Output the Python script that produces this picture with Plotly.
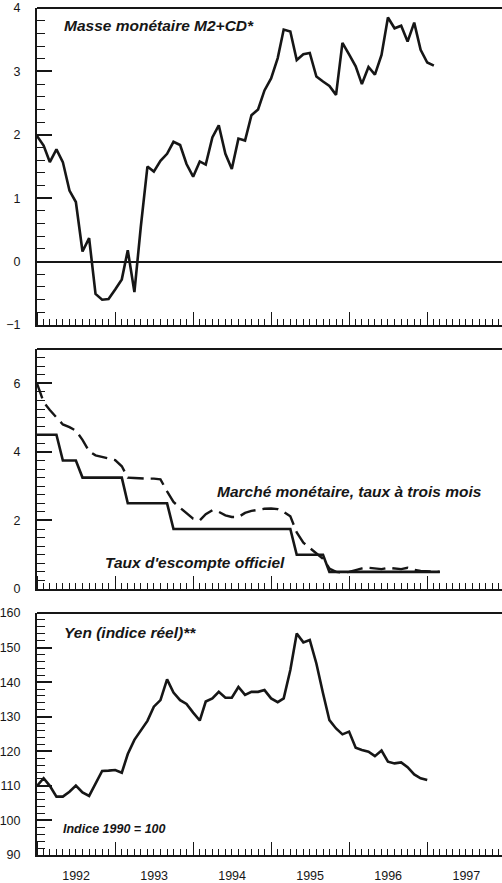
import plotly.graph_objects as go
import pandas as pd

# Masse monétaire M2+CD (monthly, from Jan 1992)
m2cd = [1.98, 1.83, 1.57, 1.77, 1.57, 1.12, 0.94, 0.16, 0.37, -0.51,
        -0.60, -0.59, -0.44, -0.28, 0.18, -0.48, 0.55, 1.50, 1.42, 1.59,
        1.70, 1.89, 1.84, 1.54, 1.34, 1.58, 1.53, 1.96, 2.15, 1.70,
        1.46, 1.94, 1.91, 2.31, 2.40, 2.70, 2.89, 3.21, 3.66, 3.63,
        3.18, 3.27, 3.29, 2.92, 2.84, 2.77, 2.63, 3.45, 3.27, 3.08,
        2.80, 3.07, 2.95, 3.26, 3.85, 3.68, 3.72, 3.47, 3.77, 3.34,
        3.14, 3.09]

# Taux d'escompte officiel
discount = ([4.5] * 4 + [3.75] * 3 + [3.25] * 7 + [2.5] * 7 + [1.75] * 19
            + [1.0] * 5 + [0.5] * 18)

# Marché monétaire, taux à trois mois
money_market = [6.0, 5.45, 5.22, 5.02, 4.8, 4.72, 4.62, 4.35, 4.02, 3.9,
                3.85, 3.8, 3.76, 3.58, 3.25, 3.24, 3.22, 3.22, 3.22, 3.2,
                2.85, 2.54, 2.37, 2.2, 2.05, 2.0, 2.18, 2.3, 2.25, 2.15,
                2.1, 2.1, 2.22, 2.28, 2.32, 2.34, 2.35, 2.33, 2.25, 2.12,
                1.65, 1.35, 1.2, 1.05, 0.88, 0.6, 0.5, 0.48, 0.5, 0.55,
                0.6, 0.62, 0.6, 0.58, 0.62, 0.6, 0.58, 0.62, 0.56, 0.53,
                0.52, 0.5, 0.5]

# Yen (indice réel), 1990 = 100
yen = [110.0, 112.2, 110.0, 106.9, 106.9, 108.3, 110.1, 108.1, 107.1, 110.7,
       114.3, 114.4, 114.6, 113.8, 119.2, 123.3, 126.2, 128.8, 132.9, 134.8,
       140.8, 137.0, 134.8, 133.7, 131.2, 128.9, 134.4, 135.3, 137.2, 135.5,
       135.5, 138.6, 136.3, 137.2, 137.2, 137.7, 135.3, 134.2, 135.3, 143.5,
       154.1, 151.5, 152.2, 145.4, 136.8, 129.0, 126.6, 124.9, 125.7, 121.0,
       120.4, 119.9, 118.6, 120.2, 117.0, 116.5, 116.8, 115.4, 113.3, 112.2,
       111.7]

START = "1992-01-01"
X_RANGE = ["1992-01-01", "1997-12-17"]


def months(n):
    return pd.date_range(START, periods=n, freq="MS")


INK = "#161616"
FONT = "Liberation Sans, Arial, Helvetica, sans-serif"

fig = go.Figure()
fig.add_trace(go.Scatter(x=months(len(m2cd)), y=m2cd, mode="lines",
                         line=dict(color=INK, width=2.6), xaxis="x", yaxis="y"))
fig.add_trace(go.Scatter(x=months(len(money_market)), y=money_market, mode="lines",
                         line=dict(color=INK, width=2.4, dash="16px,7px"),
                         xaxis="x2", yaxis="y2"))
fig.add_trace(go.Scatter(x=months(len(discount)), y=discount, mode="lines",
                         line=dict(color=INK, width=2.6), xaxis="x2", yaxis="y2"))
fig.add_trace(go.Scatter(x=months(len(yen)), y=yen, mode="lines",
                         line=dict(color=INK, width=2.6), xaxis="x3", yaxis="y3"))


def xaxis(anchor, labels):
    return dict(type="date", range=X_RANGE, anchor=anchor, domain=[0, 1],
                showline=True, linecolor=INK, linewidth=2,
                ticks="inside", ticklen=13, tickwidth=1.3, tickcolor=INK,
                tick0=START, dtick="M12", tickformat="%Y", ticklabelmode="period",
                minor=dict(ticks="inside", ticklen=6, tickwidth=1, tickcolor=INK,
                           dtick="M1", showgrid=False),
                showticklabels=labels, ticklabelstandoff=8,
                showgrid=False, zeroline=False, fixedrange=True)


def yaxis(anchor, domain, rng, dtick, minor, zeroline=False):
    return dict(anchor=anchor, domain=domain, range=rng, dtick=dtick, tick0=0,
                showline=True, linecolor=INK, linewidth=2,
                ticks="inside", ticklen=15, tickwidth=1.5, tickcolor=INK,
                minor=dict(ticks="inside", ticklen=8, tickwidth=1, tickcolor=INK,
                           dtick=minor, showgrid=False),
                ticklabelstandoff=12, showgrid=False,
                zeroline=zeroline, zerolinecolor=INK, zerolinewidth=1.6,
                fixedrange=True)


fig.update_layout(
    width=502, height=883,
    margin=dict(l=37, r=0, t=8, b=28),
    paper_bgcolor="white", plot_bgcolor="white",
    showlegend=False,
    font=dict(family=FONT, size=12.5, color=INK),
    xaxis=xaxis("y", False),
    xaxis2=xaxis("y2", False),
    xaxis3=xaxis("y3", True),
    yaxis=yaxis("x", [0.6257, 1.0], [-1, 4], 1, 0.2, zeroline=True),
    yaxis2=yaxis("x2", [0.3140, 0.5974], [0, 7], 2, 0.25),
    yaxis3=yaxis("x3", [0.0, 0.2857], [90, 160], 10, 2),
)

# top frame line of each panel
for xr, yr in (("x", "y"), ("x2", "y2"), ("x3", "y3")):
    fig.add_shape(type="line", xref=f"{xr} domain", yref=f"{yr} domain",
                  x0=0, x1=1, y0=1, y1=1, line=dict(color=INK, width=2))

ann_font = dict(family=FONT, size=15.5, color=INK)
annotations = [
    ("x", "y", 0.054, 0.946, "<b><i>Masse monétaire M2+CD*</i></b>", ann_font),
    ("x2", "y2", 0.383, 0.408, "<b><i>Marché monétaire, taux à trois mois</i></b>", ann_font),
    ("x2", "y2", 0.142, 0.1125, "<b><i>Taux d'escompte officiel</i></b>", ann_font),
    ("x3", "y3", 0.054, 0.921, "<b><i>Yen (indice réel)**</i></b>", ann_font),
    ("x3", "y3", 0.052, 0.107, "<b><i>Indice 1990 = 100</i></b>",
     dict(family=FONT, size=12.5, color=INK)),
]
for xr, yr, x, y, text, f in annotations:
    fig.add_annotation(xref=f"{xr} domain", yref=f"{yr} domain", x=x, y=y,
                       text=text, showarrow=False, xanchor="left",
                       yanchor="middle", font=f)

fig.write_html("out.html")
